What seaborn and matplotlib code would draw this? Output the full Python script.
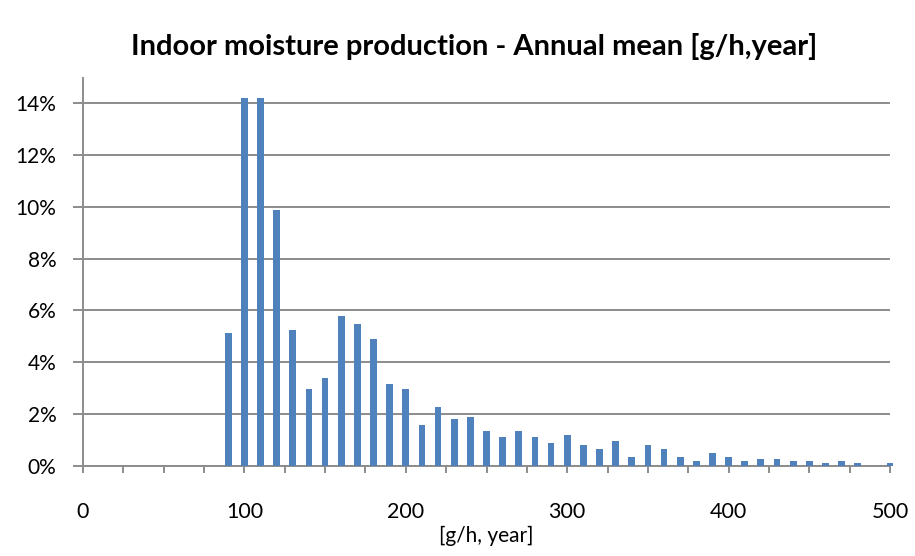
import matplotlib
matplotlib.use("Agg")
import matplotlib.pyplot as plt
from matplotlib.ticker import MultipleLocator, FuncFormatter
import seaborn as sns
import pandas as pd

# Annual mean indoor moisture production, binned every 10 g/h
bins = [90, 100, 110, 120, 130, 140, 150, 160, 170, 180, 190, 200,
        210, 220, 230, 240, 250, 260, 270, 280, 290, 300, 310, 320,
        330, 340, 350, 360, 370, 380, 390, 400, 410, 420, 430, 440,
        450, 460, 470, 480, 490, 500]
share_pct = [5.12, 14.17, 14.17, 9.88, 5.25, 2.96, 3.41, 5.80, 5.49, 4.88,
             3.18, 2.96, 1.57, 2.26, 1.80, 1.88, 1.34, 1.11, 1.34, 1.11,
             0.88, 1.19, 0.80, 0.64, 0.95, 0.34, 0.80, 0.64, 0.34, 0.18,
             0.49, 0.34, 0.18, 0.26, 0.26, 0.18, 0.18, 0.10, 0.18, 0.10,
             0.00, 0.10]

title = "Indoor moisture production - Annual mean [g/h,year]"
x_label = "[g/h, year]"

df = pd.DataFrame({"bin": bins, "share": [v / 100 for v in share_pct]})

sns.set_theme(style="white")
plt.rcParams["font.family"] = ["Lato", "DejaVu Sans"]

W, H = 915, 556
fig = plt.figure(figsize=(W / 100, H / 100), dpi=100)
ax = fig.add_axes([83 / W, 1 - 466 / H, (890 - 83) / W, (466 - 78) / H])

grid_c = "#8c8c8c"
sns.barplot(data=df, x="bin", y="share", native_scale=True, width=0.42,
            color="#4F81BD", saturation=1, linewidth=0, ax=ax, zorder=3)
for p in ax.patches:
    p.set_clip_on(False)

ax.set_xlim(0, 500)
ax.set_ylim(0, 0.1496)
ax.xaxis.set_major_locator(MultipleLocator(100))
ax.xaxis.set_minor_locator(MultipleLocator(25))
ax.yaxis.set_major_locator(MultipleLocator(0.02))
ax.yaxis.set_major_formatter(FuncFormatter(lambda v, _: f"{v * 100:.0f}%"))
ax.xaxis.set_major_formatter(FuncFormatter(lambda v, _: f"{v:.0f}"))

ax.grid(axis="y", color=grid_c, linewidth=1.4, zorder=0)
ax.set_axisbelow(True)
for side in ("top", "right"):
    ax.spines[side].set_visible(False)
for side in ("left", "bottom"):
    ax.spines[side].set_color(grid_c)
    ax.spines[side].set_linewidth(1.4)
    ax.spines[side].set_zorder(2)

ax.tick_params(axis="y", which="major", direction="out", length=7, width=1.4,
               color=grid_c, left=True, labelsize=15, pad=12, labelcolor="black")
ax.tick_params(axis="x", which="both", direction="out", length=5, width=1.4,
               color=grid_c, bottom=True, labelsize=15.5, pad=21, labelcolor="black")

ax.set_xlabel(x_label, fontsize=15, labelpad=3, color="black")
ax.set_ylabel("")

fig.text(474 / W, 1 - 47 / H, title, ha="center", va="center",
         fontsize=21, fontweight="bold", color="black")

fig.savefig("out.png", dpi=100)
